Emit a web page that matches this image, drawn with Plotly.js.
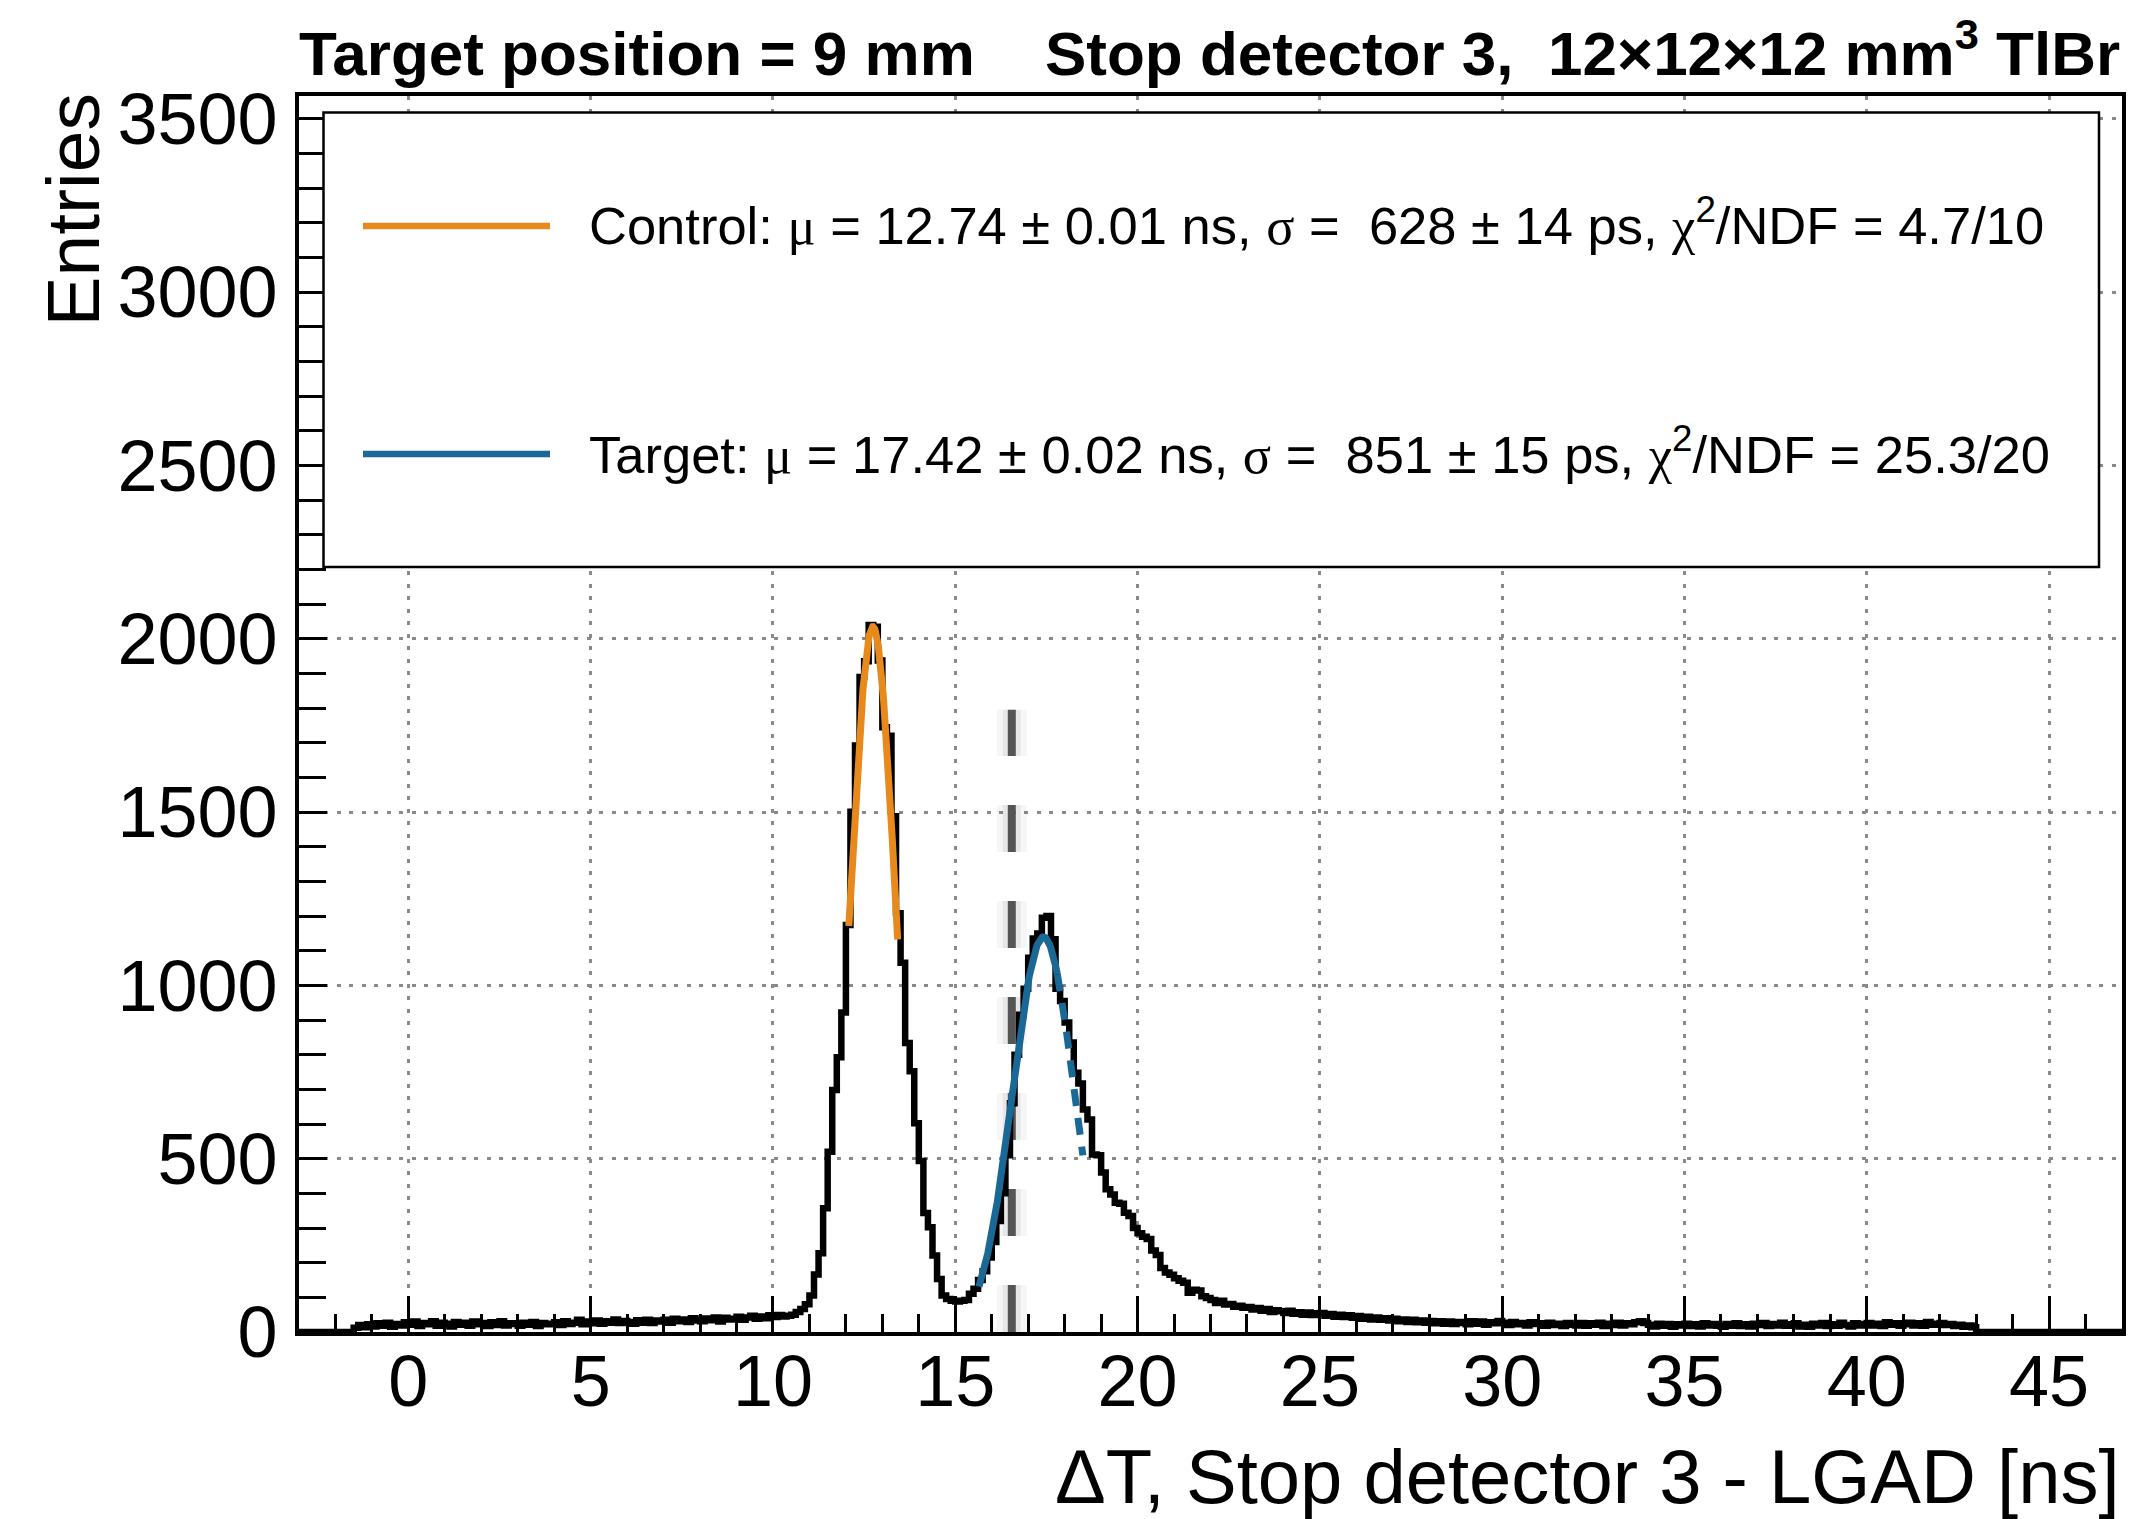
<!DOCTYPE html>
<html>
<head>
<meta charset="utf-8">
<script src="https://cdn.plot.ly/plotly-3.0.1.min.js"></script>
<style>html,body{margin:0;padding:0;background:#fff;} #chart{width:2151px;height:1519px;}</style>
</head>
<body>
<div id="chart"></div>
<script>
// ---------------- data ----------------
const binLow = -3;          // ns, lower edge of first bin
const binWidth = 0.125;     // ns
const counts = [
  0,0,0,0,0,0,0,0,                    // -3 .. -2
  0,0,0,0,12,20,14,22,                // -2 .. -1
  16,25,18,27,15,23,19,28,            // -1 .. 0
  21,30,17,26,22,31,18,27,            // 0 .. 1
  24,16,29,21,27,18,30,22,            // 1 .. 2
  26,17,28,20,31,19,25,23,            // 2 .. 3
  18,27,21,29,17,26,22,24,            // 3 .. 4
  28,20,31,23,27,35,22,30,            // 4 .. 5
  25,33,24,31,27,36,26,32,            // 5 .. 6
  29,24,34,27,35,26,33,30,            // 6 .. 7
  35,27,38,31,36,29,40,33,            // 7 .. 8
  31,39,34,42,30,41,36,38,            // 8 .. 9
  44,35,42,47,38,45,40,48,            // 9 .. 10
  43,49,45,47,50,58,66,80,            // 10 .. 11
  105,166,227,357,520,698,793,922,    // 11 .. 12
  1174,1501,1692,1890,1935,2040,2035,1937, // 12 .. 13
  1745,1720,1488,1208,1065,834,752,602,    // 13 .. 14
  493,343,302,221,153,105,95,90,      // 14 .. 15
  88,90,92,110,125,150,175,215,       // 15 .. 16
  260,320,400,510,660,800,915,990,    // 16 .. 17
  1080,1135,1150,1195,1200,1133,990,955, // 17 .. 18
  893,835,748,717,642,613,512,510,    // 18 .. 19
  460,412,397,373,370,344,335,300,    // 19 .. 20
  285,275,268,235,222,185,172,165,    // 20 .. 21
  155,148,142,113,122,120,103,98,     // 21 .. 22
  92,84,90,79,81,73,76,70,            // 22 .. 23
  72,65,69,61,66,58,63,60,            // 23 .. 24
  55,61,53,57,50,56,49,54,            // 24 .. 25
  55,47,52,44,50,43,48,41,            // 25 .. 26
  46,38,44,36,42,35,40,33,            // 26 .. 27
  38,31,36,29,35,28,33,27,            // 27 .. 28
  32,25,31,24,30,23,29,26,            // 28 .. 29
  22,31,24,30,21,28,25,32,            // 29 .. 30
  27,20,29,22,26,19,28,23,            // 30 .. 31
  25,18,27,20,24,17,26,21,            // 31 .. 32
  19,26,18,25,21,27,17,24,            // 32 .. 33
  20,27,19,25,22,28,31,26,            // 33 .. 34
  21,16,24,18,23,15,22,19,            // 34 .. 35
  24,17,22,16,25,19,23,18,            // 35 .. 36
  15,23,18,25,17,22,16,24,            // 36 .. 37
  20,26,17,23,19,27,18,22,            // 37 .. 38
  25,16,21,15,24,19,26,17,            // 38 .. 39
  22,18,27,20,16,25,19,23,            // 39 .. 40
  26,19,24,17,28,21,25,18,            // 40 .. 41
  22,27,19,25,18,29,21,24,            // 41 .. 42
  26,20,23,17,21,15,19,14,            // 42 .. 43
  0,0,0,0,0,0,0,0,                    // 43 .. 44
  0,0,0,0,0,0,0,0,                    // 44 .. 45
  0,0,0,0,0,0,0,0,                    // 45 .. 46
  0,0,0,0,0,0,0,0                     // 46 .. 47
];

// Gaussian fits (parameters as quoted in the legend)
const fitNames      = ['Control', 'Target'];
const fitMu         = [12.74, 17.42];   // ns
const fitMuErr      = [0.01, 0.02];     // ns
const fitSigma      = [0.628, 0.851];   // ns
const fitSigmaErrPs = [14, 15];         // ps
const fitChi2       = [4.7, 25.3];
const fitNdf        = [10, 20];
const fitAmp        = [2035, 1140];     // entries at the peak
const fitLow        = [12.08, 15.65];   // ns, drawn range
const fitHigh       = [13.42, 18.50];
const fitDashFrom   = [null, 17.80];    // part of the curve drawn dashed
const fitColors     = ['#E8891C', '#1A6896'];

const cutPosition = 16.55;   // ns, grey dashed marker
const cutTop      = 1795;    // entries

const xTickVals = [0, 5, 10, 15, 20, 25, 30, 35, 40, 45];
const yTickVals = [0, 500, 1000, 1500, 2000, 2500, 3000, 3500];
const xRange = [-3, 47];
const yRange = [0, 3566];

// ---------------- geometry helpers ----------------
const W = 2151, H = 1519, ML = 299, MR = 29, MT = 96, MB = 187;
const PW = W - ML - MR, PH = H - MT - MB;
const px = x => (x - ML) / PW;
const py = y => (H - MB - y) / PH;

// ---------------- traces ----------------
const hx = [], hy = [];
for (let i = 0; i <= counts.length; i++) {
  hx.push(binLow + i * binWidth);
  hy.push(counts[Math.min(i, counts.length - 1)]);
}
const traces = [{
  type: 'scatter', mode: 'lines', x: hx, y: hy,
  line: {shape: 'hv', color: '#000', width: 6.5}, hoverinfo: 'skip'
}];

function gauss(k, a, b) {
  const xs = [], ys = [], n = 160;
  for (let i = 0; i <= n; i++) {
    const x = a + (b - a) * i / n;
    xs.push(x);
    ys.push(fitAmp[k] * Math.exp(-0.5 * Math.pow((x - fitMu[k]) / fitSigma[k], 2)));
  }
  return {xs, ys};
}
for (let k = 0; k < fitNames.length; k++) {
  const solidEnd = fitDashFrom[k] === null ? fitHigh[k] : fitDashFrom[k];
  const g = gauss(k, fitLow[k], solidEnd);
  traces.push({type: 'scatter', mode: 'lines', x: g.xs, y: g.ys,
    line: {color: fitColors[k], width: 7}, hoverinfo: 'skip'});
  if (fitDashFrom[k] !== null) {
    const gd = gauss(k, fitDashFrom[k], fitHigh[k]);
    traces.push({type: 'scatter', mode: 'lines', x: gd.xs, y: gd.ys,
      line: {color: fitColors[k], width: 7, dash: '17px,12px'}, hoverinfo: 'skip'});
  }
}

// ---------------- legend text ----------------
const serif = s => '<span style="font-family:Liberation Serif">' + s + '</span>';
function legendText(k) {
  return fitNames[k] + ': ' + serif('μ') + ' = ' + fitMu[k].toFixed(2) + ' ± ' + fitMuErr[k].toFixed(2) +
    ' ns, ' + serif('σ') + ' =\u00a0 ' + Math.round(fitSigma[k] * 1000) + ' ± ' + fitSigmaErrPs[k] +
    ' ps, ' + serif('χ') + '<sup>2</sup>/NDF = ' + fitChi2[k].toFixed(1) + '/' + fitNdf[k];
}

const FONT = 'Liberation Sans, Arial, Helvetica, sans-serif';
const legendBox = {x0: 323.5, x1: 2099, y0: 112.5, y1: 567};
const legendRows = [226, 454];      // pixel rows of the two entries
const legendBaselines = [244, 473];
const LEG_FS = 52.5, TITLE_FS = 62, AXT_FS = 76;

const shapes = [
  // glow of the grey marker
  {type: 'line', layer: 'between', xref: 'x', yref: 'y', x0: cutPosition, x1: cutPosition, y0: 0, y1: cutTop,
   line: {color: 'rgba(0,0,0,0.035)', width: 30, dash: '47px,49px'}},
  {type: 'line', layer: 'between', xref: 'x', yref: 'y', x0: cutPosition, x1: cutPosition, y0: 0, y1: cutTop,
   line: {color: 'rgba(0,0,0,0.06)', width: 18, dash: '47px,49px'}},
  {type: 'line', layer: 'between', xref: 'x', yref: 'y', x0: cutPosition, x1: cutPosition, y0: 0, y1: cutTop,
   line: {color: '#555555', width: 8, dash: '47px,49px'}},
  // legend frame
  {type: 'rect', layer: 'above', xref: 'paper', yref: 'paper',
   x0: px(legendBox.x0), x1: px(legendBox.x1), y0: py(legendBox.y1), y1: py(legendBox.y0),
   fillcolor: '#ffffff', line: {color: '#000', width: 2.5}}
];
for (let k = 0; k < fitNames.length; k++) {
  shapes.push({type: 'line', layer: 'above', xref: 'paper', yref: 'paper',
    x0: px(363), x1: px(550), y0: py(legendRows[k]), y1: py(legendRows[k]),
    line: {color: fitColors[k], width: 6.5}});
}

const annotations = [
  {xref: 'paper', yref: 'paper', x: px(299), y: py(75 + 0.212 * TITLE_FS), xanchor: 'left', yanchor: 'bottom',
   text: '<b>Target position = 9 mm</b>', showarrow: false, borderpad: 0, borderwidth: 0,
   font: {family: FONT, size: TITLE_FS, color: '#000'}},
  {xref: 'paper', yref: 'paper', x: px(2120), y: py(75 + 0.212 * TITLE_FS), xanchor: 'right', yanchor: 'bottom',
   text: '<b>Stop detector 3,\u00a0 12×12×12 mm<sup>3</sup> TlBr</b>', showarrow: false, borderpad: 0, borderwidth: 0,
   font: {family: FONT, size: TITLE_FS, color: '#000'}},
  {xref: 'paper', yref: 'paper', x: px(2120), y: py(1503 + 0.212 * AXT_FS), xanchor: 'right', yanchor: 'bottom',
   text: 'ΔT, Stop detector 3 - LGAD [ns]', showarrow: false, borderpad: 0, borderwidth: 0,
   font: {family: FONT, size: AXT_FS, color: '#000'}},
  {xref: 'paper', yref: 'paper', x: px(72), y: py(94), xanchor: 'center', yanchor: 'top', textangle: -90,
   text: 'Entries', showarrow: false, borderpad: 0, borderwidth: 0,
   font: {family: FONT, size: 75, color: '#000'}}
];
for (let k = 0; k < fitNames.length; k++) {
  annotations.push({xref: 'paper', yref: 'paper', x: px(589), y: py(legendBaselines[k] + 0.212 * LEG_FS),
    xanchor: 'left', yanchor: 'bottom', text: legendText(k), showarrow: false, borderpad: 0, borderwidth: 0,
    font: {family: FONT, size: LEG_FS, color: '#000'}});
}

const gridStyle = {showgrid: true, gridcolor: '#8a8a8a', gridwidth: 3, griddash: '4px,8.5px'};

const layout = {
  width: W, height: H,
  margin: {l: ML, r: MR, t: MT, b: MB, pad: 0},
  paper_bgcolor: '#fff', plot_bgcolor: '#fff',
  showlegend: false,
  font: {family: FONT, color: '#000'},
  xaxis: Object.assign({
    range: xRange, tickmode: 'array', tickvals: xTickVals, ticktext: xTickVals.map(String),
    ticks: 'inside', ticklen: 36, tickwidth: 3, tickcolor: '#000',
    showline: true, linecolor: '#000', linewidth: 4, mirror: true, zeroline: false,
    tickfont: {family: FONT, size: 72, color: '#000'}, ticklabelstandoff: -16,
    minor: {dtick: 1, tick0: 0, ticks: 'inside', ticklen: 18, tickwidth: 3, tickcolor: '#000', showgrid: false}
  }, gridStyle),
  yaxis: Object.assign({
    range: yRange, tickmode: 'array', tickvals: yTickVals, ticktext: yTickVals.map(String),
    ticks: 'inside', ticklen: 28, tickwidth: 3, tickcolor: '#000',
    showline: true, linecolor: '#000', linewidth: 4, mirror: true, zeroline: false,
    tickfont: {family: FONT, size: 72, color: '#000'}, ticklabelstandoff: 3,
    minor: {dtick: 100, tick0: 0, ticks: 'inside', ticklen: 27, tickwidth: 3, tickcolor: '#000', showgrid: false}
  }, gridStyle),
  shapes: shapes,
  annotations: annotations
};

Plotly.newPlot('chart', traces, layout, {staticPlot: true, displayModeBar: false});
</script>
</body>
</html>
